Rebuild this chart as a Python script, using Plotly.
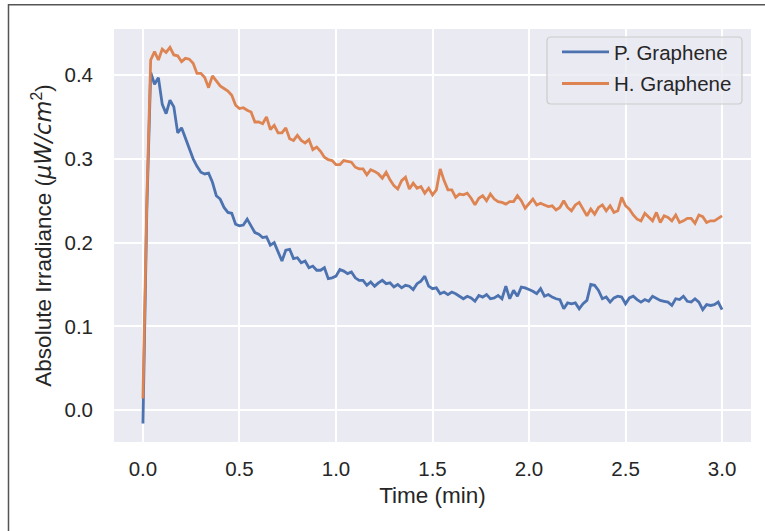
import numpy as np
import plotly.graph_objects as go

# time axis (min), sampled every 0.02 min
time_min = np.round(np.arange(0, 151) * 0.02, 2)

p_graphene = [
    -0.016, 0.240, 0.403, 0.389, 0.397, 0.365, 0.354, 0.370, 0.362, 0.331,
    0.337, 0.325, 0.312, 0.300, 0.291, 0.284, 0.282, 0.283, 0.272, 0.256,
    0.252, 0.242, 0.236, 0.235, 0.222, 0.220, 0.221, 0.228, 0.220, 0.212,
    0.210, 0.206, 0.207, 0.197, 0.200, 0.188, 0.178, 0.191, 0.192, 0.181,
    0.182, 0.176, 0.178, 0.170, 0.172, 0.167, 0.167, 0.170, 0.157, 0.158,
    0.160, 0.168, 0.166, 0.163, 0.165, 0.158, 0.155, 0.155, 0.149, 0.153,
    0.148, 0.152, 0.155, 0.151, 0.152, 0.147, 0.150, 0.146, 0.149, 0.148,
    0.144, 0.151, 0.154, 0.160, 0.148, 0.145, 0.146, 0.139, 0.141, 0.138,
    0.141, 0.139, 0.136, 0.133, 0.136, 0.134, 0.130, 0.137, 0.135, 0.138,
    0.133, 0.134, 0.137, 0.133, 0.148, 0.133, 0.143, 0.136, 0.147, 0.146,
    0.144, 0.142, 0.139, 0.145, 0.136, 0.138, 0.135, 0.133, 0.132, 0.121,
    0.128, 0.127, 0.128, 0.121, 0.127, 0.131, 0.150, 0.149, 0.143, 0.133,
    0.135, 0.129, 0.134, 0.136, 0.135, 0.127, 0.134, 0.136, 0.132, 0.129,
    0.132, 0.130, 0.136, 0.133, 0.131, 0.130, 0.129, 0.125, 0.133, 0.132,
    0.136, 0.130, 0.129, 0.133, 0.129, 0.120, 0.126, 0.125, 0.126, 0.129,
    0.120,
]

h_graphene = [
    0.014, 0.250, 0.418, 0.428, 0.418, 0.431, 0.427, 0.433, 0.424, 0.423,
    0.416, 0.420, 0.419, 0.414, 0.402, 0.402, 0.397, 0.385, 0.399, 0.393,
    0.387, 0.384, 0.381, 0.376, 0.364, 0.360, 0.361, 0.358, 0.356, 0.344,
    0.344, 0.342, 0.350, 0.335, 0.340, 0.331, 0.331, 0.337, 0.324, 0.322,
    0.328, 0.322, 0.319, 0.323, 0.311, 0.314, 0.309, 0.302, 0.299, 0.298,
    0.293, 0.293, 0.298, 0.297, 0.296, 0.290, 0.288, 0.288, 0.281, 0.287,
    0.285, 0.282, 0.277, 0.284, 0.275, 0.268, 0.264, 0.274, 0.278, 0.264,
    0.271, 0.265, 0.267, 0.259, 0.265, 0.257, 0.263, 0.288, 0.274, 0.263,
    0.263, 0.254, 0.258, 0.257, 0.259, 0.253, 0.245, 0.253, 0.256, 0.250,
    0.258, 0.252, 0.249, 0.248, 0.246, 0.249, 0.249, 0.256, 0.250, 0.241,
    0.246, 0.252, 0.245, 0.247, 0.245, 0.243, 0.244, 0.239, 0.242, 0.250,
    0.242, 0.238, 0.245, 0.248, 0.240, 0.232, 0.240, 0.234, 0.242, 0.245,
    0.238, 0.244, 0.236, 0.238, 0.254, 0.244, 0.240, 0.233, 0.228, 0.226,
    0.235, 0.230, 0.226, 0.236, 0.224, 0.232, 0.230, 0.226, 0.233, 0.224,
    0.226, 0.229, 0.229, 0.223, 0.233, 0.231, 0.224, 0.226, 0.226, 0.229,
    0.232,
]

series_names = ["P. Graphene", "H. Graphene"]
series_colors = ["#4C72B0", "#DD8452"]

x_ticks = [0.0, 0.5, 1.0, 1.5, 2.0, 2.5, 3.0]
y_ticks = [0.0, 0.1, 0.2, 0.3, 0.4]

FONT = "Liberation Sans, Arial, Helvetica, sans-serif"

# plot area geometry in pixels (for converting legend box to paper coords)
L, R, T, B = 114, 751, 29, 442
W, H = R - L, B - T


def px(xp):
    return (xp - L) / W


def py(yp):
    return 1 - (yp - T) / H


fig = go.Figure()
for name, vals, col in zip(series_names, [p_graphene, h_graphene], series_colors):
    fig.add_trace(go.Scatter(
        x=time_min, y=vals, mode="lines", name=name, legendgroup=name,
        line=dict(color=col, width=2.8),
    ))

# rounded legend frame (matplotlib style)
bx0, bx1, by0, by1, r = 547, 742, 37, 104, 4
frame = (
    f"M {px(bx0 + r)},{py(by0)} L {px(bx1 - r)},{py(by0)} "
    f"Q {px(bx1)},{py(by0)} {px(bx1)},{py(by0 + r)} "
    f"L {px(bx1)},{py(by1 - r)} Q {px(bx1)},{py(by1)} {px(bx1 - r)},{py(by1)} "
    f"L {px(bx0 + r)},{py(by1)} Q {px(bx0)},{py(by1)} {px(bx0)},{py(by1 - r)} "
    f"L {px(bx0)},{py(by0 + r)} Q {px(bx0)},{py(by0)} {px(bx0 + r)},{py(by0)} Z"
)

fig.update_layout(
    width=765, height=531,
    margin=dict(l=L, r=765 - R, t=T, b=531 - B),
    paper_bgcolor="white",
    plot_bgcolor="#EAEAF2",
    font=dict(family=FONT, size=20.5, color="#262626"),
    showlegend=True,
    legend=dict(
        x=px(557), y=py(32), xanchor="left", yanchor="top",
        bgcolor="rgba(0,0,0,0)", borderwidth=0,
        font=dict(family=FONT, size=20.5, color="#262626"),
        tracegroupgap=2, itemwidth=47,
    ),
    xaxis=dict(
        range=[-0.15, 3.15],
        tickvals=x_ticks,
        ticktext=[f"{v:.1f}" for v in x_ticks],
        showgrid=True, gridcolor="white", gridwidth=2,
        zeroline=False, showline=False,
        ticks="", ticklabelstandoff=12,
        title=dict(text="Time (min)", font=dict(size=22.5), standoff=8),
    ),
    yaxis=dict(
        range=[-0.038, 0.455],
        tickvals=y_ticks,
        ticktext=[f"{v:.1f}" for v in y_ticks],
        showgrid=True, gridcolor="white", gridwidth=2,
        zeroline=False, showline=False,
        ticks="", ticklabelstandoff=20,
        title=dict(
            text="Absolute Irradiance (<span style=\"font-family:DejaVu Sans\"><i>μW/cm</i></span><sup>2</sup>)",
            font=dict(size=22.5), standoff=6,
        ),
    ),
    shapes=[
        dict(
            type="path", xref="paper", yref="paper", path=frame,
            line=dict(color="#CCCCCC", width=1.2),
            fillcolor="rgba(234,234,242,0.8)", layer="above",
        ),
        dict(
            type="rect", xref="paper", yref="paper",
            x0=px(8.5), x1=px(775), y0=py(545), y1=py(4.7),
            line=dict(color="#555555", width=1.5), fillcolor="rgba(0,0,0,0)",
            layer="above",
        ),
    ],
)

fig.write_html("out.html")
